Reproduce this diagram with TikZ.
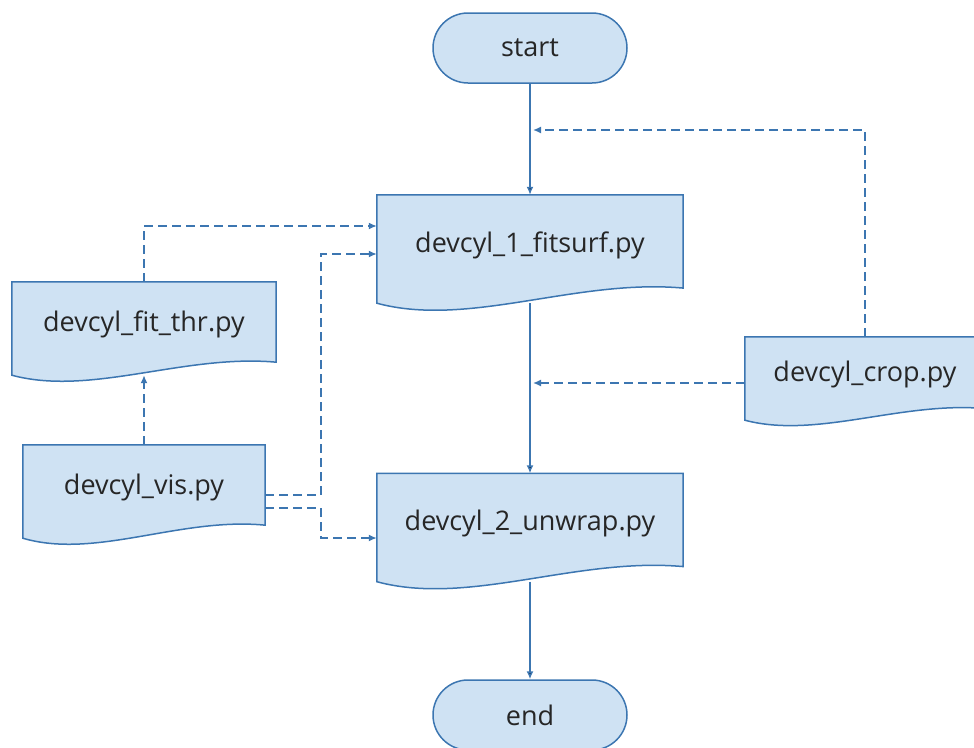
\documentclass[tikz,border=0pt]{standalone}
\usepackage{fontspec}
\setmainfont{Open Sans}
\usetikzlibrary{arrows.meta,backgrounds,calc}
\definecolor{flowline}{HTML}{3C76B1}
\definecolor{flowfill}{HTML}{CFE2F3}
\definecolor{flowtext}{HTML}{262626}

% document box: #1 name, #2 centre, #3 width, #4 height, #5 text
\newcommand{\docnode}[5]{%
  \node[docbox, minimum width=#3, minimum height=#4] (#1) at (#2) {#5};
  \begin{scope}[on background layer]
    \path[fill=flowfill, draw=flowline, line width=1.5pt]
      (#1.north west) -- (#1.north east) -- ([yshift=0.14*#4]#1.south east)
      .. controls ($(#1.south west)!0.65!(#1.south east)+(0,0.23*#4)$)
      and ($(#1.south west)!0.3!(#1.south east)+(0,-0.23*#4)$) .. (#1.south west)
      -- cycle;
  \end{scope}}

\begin{document}
\begin{tikzpicture}[x=1pt, y=1pt,
  font=\fontsize{27}{32}\selectfont, text=flowtext,
  docbox/.style={inner sep=0pt, text height=20pt, text depth=13.4pt},
  termbox/.style={draw=flowline, fill=flowfill, line width=1.5pt,
    rounded corners=35pt, minimum width=194pt, minimum height=70pt},
  flow/.style={draw=flowline, line width=1.5pt, -{Latex[length=8pt,width=7pt]}},
  feed/.style={flow, dash pattern=on 9pt off 5pt}]
  \useasboundingbox (0,0) rectangle (974,-747);

  \node[termbox] (start) at (530,-48) {start};
  \docnode{fitsurf}{530,-249}{306}{108}{devcyl\_1\_fitsurf.py}
  \docnode{fitthr}{144,-328.5}{264}{93}{devcyl\_fit\_thr.py}
  \docnode{crop}{865,-378.5}{240}{83}{devcyl\_crop.py}
  \docnode{vis}{144,-491.5}{242}{93}{devcyl\_vis.py}
  \docnode{unwrap}{530,-527.5}{306}{108}{devcyl\_2\_unwrap.py}
  \node[termbox] (end) at (530,-715) {end};

  \coordinate (loopin) at (533,-130);
  \coordinate (cropin) at (533,-383);
  \coordinate (visbend) at (321,-495);

  \path[flow]
  (start) edge (fitsurf)
  (fitsurf) edge (unwrap)
  (unwrap) edge (end)
  ;
  \draw[feed] (crop.north) |- (loopin);
  \draw[feed] (cropin -| crop.west) -- (cropin);
  \draw[feed] (fitthr.north) |- ([yshift=23pt]fitsurf.west);
  \draw[feed] (vis.north) -- (fitthr.south);
  \draw[feed] (visbend -| vis.east) -- (visbend) |- ([yshift=-5pt]fitsurf.west);
  \draw[feed] ([yshift=-13pt]visbend -| vis.east) -- ([yshift=-13pt]visbend)
    |- ([yshift=-10.5pt]unwrap.west);
\end{tikzpicture}
\end{document}
